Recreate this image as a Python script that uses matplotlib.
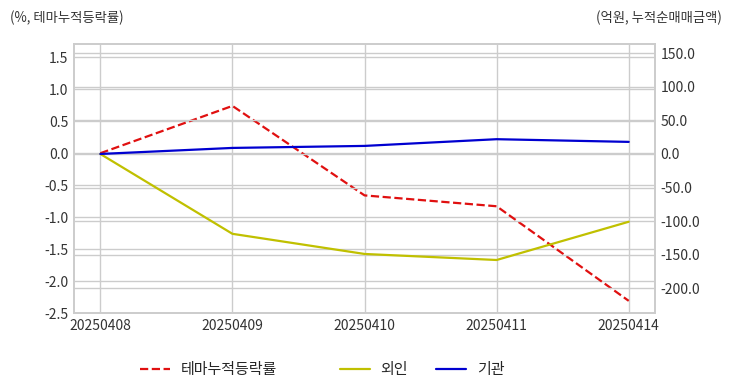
import matplotlib
matplotlib.use("Agg")
import matplotlib.pyplot as plt

# Data
dates = ["20250408", "20250409", "20250410", "20250411", "20250414"]
theme_return = [0.0, 0.74, -0.66, -0.83, -2.31]
foreign = [0.0, -119.0, -149.0, -158.0, -101.0]
institution = [0.0, 9.0, 12.0, 22.0, 18.0]

plt.style.use("seaborn-v0_8-whitegrid")
plt.rcParams["font.family"] = ["Noto Sans CJK KR", "DejaVu Sans"]
plt.rcParams["axes.unicode_minus"] = False

fig = plt.figure(figsize=(7.32, 3.92), dpi=100)
ax = fig.add_axes([0.101, 0.2015, 0.794, 0.6865])
ax2 = ax.twinx()

x = list(range(len(dates)))
l1, = ax.plot(x, theme_return, color="#e01010", linestyle="--", linewidth=1.6, label="테마누적등락률")
l2, = ax2.plot(x, foreign, color="#c0c000", linewidth=1.6, label="외인")
l3, = ax2.plot(x, institution, color="#0000d0", linewidth=1.6, label="기관")

ax.set_xlim(-0.2, 4.2)
ax.set_ylim(-2.5, 1.71)
ax2.set_ylim(-237, 164)
ax.set_yticks([-2.5, -2.0, -1.5, -1.0, -0.5, 0.0, 0.5, 1.0, 1.5])
ax2.set_yticks([-200, -150, -100, -50, 0, 50, 100, 150])
ax.yaxis.set_major_formatter(matplotlib.ticker.FormatStrFormatter("%.1f"))
ax2.yaxis.set_major_formatter(matplotlib.ticker.FormatStrFormatter("%.1f"))
ax.set_xticks(x)
ax.set_xticklabels(dates)

for a in (ax, ax2):
    a.grid(True, color="#cccccc", linewidth=1)
    a.tick_params(labelsize=10, colors="#333333", length=0, pad=4)
    for s in a.spines.values():
        s.set_visible(True)
        s.set_color("#cccccc")
        s.set_linewidth(1.2)

fig.text(0.014, 0.955, "(%, 테마누적등락률)", fontsize=9.6, color="#333333", ha="left", va="center")
fig.text(0.986, 0.955, "(억원, 누적순매매금액)", fontsize=9.6, color="#333333", ha="right", va="center")

# legend entries placed individually like the original
for handle, xpos in [(l1, 0.191), (l2, 0.464), (l3, 0.596)]:
    fig.legend(handles=[handle], loc="center left", bbox_to_anchor=(xpos, 0.056),
               frameon=False, fontsize=10.8, handlelength=2.0, handletextpad=0.7,
               borderpad=0, borderaxespad=0)

fig.savefig("out.png", dpi=100)
